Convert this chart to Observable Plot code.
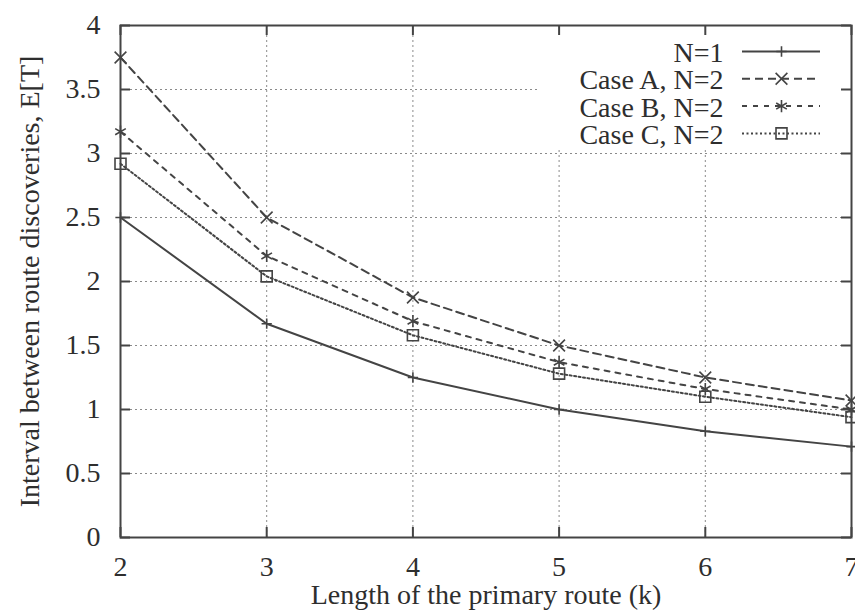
<!DOCTYPE html>
<html><head><meta charset="utf-8">
<script src="https://cdn.jsdelivr.net/npm/d3@7"></script>
<script src="https://cdn.jsdelivr.net/npm/@observablehq/plot@0.6"></script>
<style>html,body{margin:0;padding:0;background:#fff}#chart svg{display:block}#chart svg text{font-family:"Liberation Serif","Times New Roman",serif !important;font-variant:normal !important}</style>
</head><body><div id="chart"></div>
<script>
// ---- data ----
const k = [2, 3, 4, 5, 6, 7];
const seriesNames = ["N=1", "Case A, N=2", "Case B, N=2", "Case C, N=2"];
const n1    = [2.50, 1.67, 1.25, 1.00, 0.83, 0.71];
const caseA = [3.75, 2.50, 1.875, 1.50, 1.25, 1.07];
const caseB = [3.17, 2.20, 1.69, 1.37, 1.16, 1.00];
const caseC = [2.92, 2.04, 1.58, 1.28, 1.10, 0.94];
const xTicks = [2, 3, 4, 5, 6, 7];
const yTicks = [0, 0.5, 1, 1.5, 2, 2.5, 3, 3.5, 4];
const yTickLabels = ["0", "0.5", "1", "1.5", "2", "2.5", "3", "3.5", "4"];
const xLabel = "Length of the primary route (k)";
const yLabel = "Interval between route discoveries, E[T]";

// ---- layout / style ----
const W = 855, H = 610, ML = 120, MR = 4, MT = 25, MB = 73;
const xDom = [2, 7], yDom = [0, 4];
const kx = (W - ML - MR) / (xDom[1] - xDom[0]);
const ky = (H - MT - MB) / (yDom[1] - yDom[0]);
const px2x = p => xDom[0] + (p - ML) / kx;
const px2y = p => yDom[0] + (H - MB - p) / ky;
const ink = "#444", textInk = "#2e2e2e", font = "Liberation Serif";
const styles = [
  {dash: null,    symbol: "plus",     r: 3.4},
  {dash: "8,5",   symbol: "times",    r: 5.4},
  {dash: "5,6",   symbol: "asterisk", r: 5.8},
  {dash: "2,2.5", symbol: "square",   r: 6.2}
];
const seriesValues = [n1, caseA, caseB, caseC];

const marks = [];
// grid
marks.push(Plot.gridX(xTicks, {stroke: "#8a8a8a", strokeOpacity: 1, strokeWidth: 1, strokeDasharray: "2,3"}));
marks.push(Plot.gridY(yTicks, {stroke: "#8a8a8a", strokeOpacity: 1, strokeWidth: 1, strokeDasharray: "2,3"}));
// blank key area
marks.push(Plot.rect([0], {x1: px2x(538), x2: xDom[1], y1: px2y(148), y2: yDom[1], fill: "white"}));
// series
seriesValues.forEach((vals, s) => {
  const rows = k.map((x, i) => ({x, y: vals[i]}));
  const st = styles[s];
  marks.push(Plot.line(rows, {x: "x", y: "y", stroke: ink, strokeWidth: 2, strokeDasharray: st.dash}));
  marks.push(Plot.dot(rows, {x: "x", y: "y", symbol: st.symbol, r: st.r, stroke: ink, fill: "none", strokeWidth: 1.6}));
});
// legend (key)
const rowY = seriesNames.map((d, i) => 52.5 + i * 27.3);
marks.push(Plot.text(seriesNames, {x: px2x(723), y: (d, i) => px2y(rowY[i]), text: d => d,
  textAnchor: "end", lineAnchor: "middle", fontSize: 28, fill: textInk, fontFamily: font}));
seriesNames.forEach((name, s) => {
  const st = styles[s];
  const yy = px2y(rowY[s] - 1.5);
  marks.push(Plot.ruleY([yy], {x1: px2x(742), x2: px2x(820), stroke: ink, strokeWidth: 2, strokeDasharray: st.dash}));
  marks.push(Plot.dot([0], {x: px2x(781), y: yy, symbol: st.symbol, r: st.r, stroke: ink, fill: "none", strokeWidth: 1.6}));
});
// inward ticks on all four sides
const tl = 10;
marks.push(Plot.ruleY(yTicks, {y: d => d, x1: xDom[0], x2: xDom[0] + tl / kx, stroke: ink, strokeWidth: 2}));
marks.push(Plot.ruleY(yTicks, {y: d => d, x1: xDom[1] - tl / kx, x2: xDom[1], stroke: ink, strokeWidth: 2}));
marks.push(Plot.ruleX(xTicks, {x: d => d, y1: yDom[0], y2: yDom[0] + tl / ky, stroke: ink, strokeWidth: 2}));
marks.push(Plot.ruleX(xTicks, {x: d => d, y1: yDom[1] - tl / ky, y2: yDom[1], stroke: ink, strokeWidth: 2}));
marks.push(Plot.frame({stroke: ink, strokeWidth: 2}));
// axes labels
marks.push(Plot.axisX({ticks: xTicks, tickSize: 0, tickPadding: 19, tickFormat: d => String(d), label: null,
  fontSize: 28, fill: textInk, fontFamily: font}));
marks.push(Plot.axisY({ticks: yTicks, tickSize: 0, tickPadding: 20, tickFormat: d => yTickLabels[yTicks.indexOf(d)], label: null,
  fontSize: 28, fill: textInk, fontFamily: font}));
marks.push(Plot.text([xLabel], {frameAnchor: "bottom", dy: 58, textAnchor: "middle", lineAnchor: "middle", text: d => d,
  fontSize: 28, fill: textInk, fontFamily: font}));
marks.push(Plot.text([yLabel], {frameAnchor: "left", dx: -90, rotate: -90, textAnchor: "middle", lineAnchor: "middle", text: d => d,
  fontSize: 28, fill: textInk, fontFamily: font}));

const chart = Plot.plot({
  width: W, height: H,
  marginLeft: ML, marginRight: MR, marginTop: MT, marginBottom: MB,
  x: {domain: xDom, axis: null},
  y: {domain: yDom, axis: null},
  style: {fontFamily: "'Liberation Serif', serif", fontSize: "28px", color: textInk, background: "white"},
  marks
});
d3.select(chart).selectAll("text").attr("font-family", "Liberation Serif");
document.getElementById("chart").appendChild(chart);
</script>
</body></html>
